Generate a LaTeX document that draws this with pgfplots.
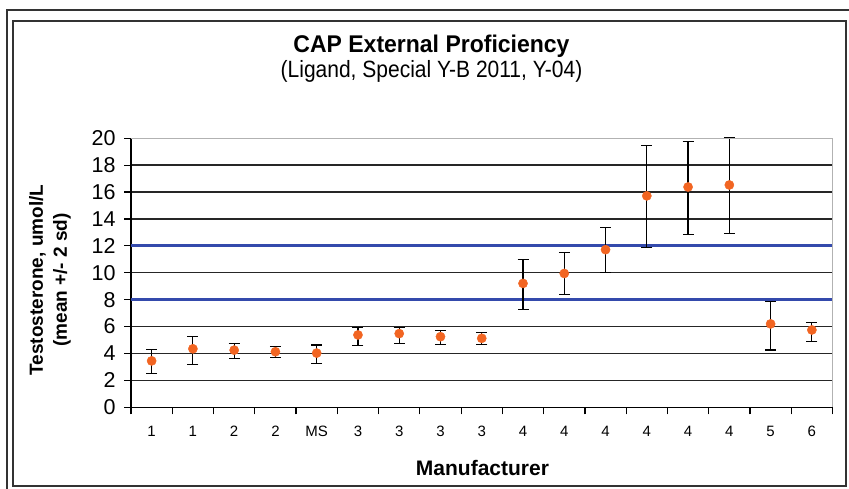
\documentclass[border=0pt]{standalone}
\usepackage{pgfplots}
\pgfplotsset{compat=1.18}
\usepackage{pgfplotstable}
\usepackage{graphicx}
\usepackage{fontspec}
\setmainfont{Liberation Sans}
\definecolor{dotorange}{RGB}{242,101,34}
\definecolor{refblue}{RGB}{52,74,172}
\pgfplotstableread{
x  y     ep    em
1  3.45  0.83  0.92
2  4.35  0.93  1.17
3  4.25  0.50  0.65
4  4.13  0.37  0.43
5  4.03  0.60  0.75
6  5.38  0.57  0.76
7  5.48  0.47  0.73
8  5.25  0.45  0.60
9  5.13  0.45  0.48
10 9.21  1.77  1.96
11 9.95  1.57  1.57
12 11.72 1.64  1.72
13 15.72 3.75  3.82
14 16.38 3.41  3.56
15 16.53 3.51  3.61
16 6.20  1.67  1.94
17 5.75  0.55  0.83
}\datatable
\begin{document}
\begin{tikzpicture}[x=1pt,y=1pt]
\useasboundingbox (0,0) rectangle (849,489);
\fill[white] (0,0) rectangle (849,489);
\draw[line width=1.5pt, black!80] (7,0) -- (7,479) -- (849,479);
\draw[line width=1.5pt, black!80] (13,3) rectangle (846,468);
\node[anchor=base, font=\fontsize{23}{27}\selectfont\bfseries] at (431.5,436.7) {\scalebox{1}[1.05]{CAP External Proficiency}};
\node[anchor=base, font=\fontsize{21}{25}\selectfont] at (431.5,411.7) {\scalebox{1}[1.12]{(Ligand, Special Y-B 2011, Y-04)}};
\node[rotate=90, align=center, font=\fontsize{19}{24}\selectfont\bfseries] at (50,209) {Testosterone, umol/L\\(mean +/- 2 sd)};
\node[anchor=base, font=\fontsize{21}{25}\selectfont\bfseries] at (482.5,13.7) {Manufacturer};
\begin{axis}[
  at={(131pt,81.7pt)}, anchor=south west, scale only axis,
  width=701.5pt, height=269pt,
  xmin=0.5, xmax=17.5, ymin=0, ymax=20,
  clip=false,
  axis x line*=bottom, axis y line*=left,
  axis line style={line width=1.2pt, black},
  ytick={0,2,...,20},
  yticklabel={\pgfmathprintnumber{\tick}},
  xtick={0.5,1.5,...,17.5},
  xticklabels={},
  extra x ticks={1,2,...,17},
  extra x tick labels={1,1,2,2,MS,3,3,3,3,4,4,4,4,4,4,5,6},
  extra x tick style={tick style={draw=none}, grid=none},
  tick align=outside,
  major tick length=7pt,
  tick style={line width=1.2pt, black},
  ymajorgrids,
  grid style={line width=1.4pt, black!85},
  /pgf/number format/assume math mode=true,
  yticklabel style={font=\fontsize{21.5}{24}\selectfont, xshift=-5pt},
  xticklabel style={font=\fontsize{15}{17}\selectfont, yshift=-8pt},
  after end axis/.code={
    \draw[black!30, line width=1.4pt] (rel axis cs:0,1) -- (rel axis cs:1,1) -- (rel axis cs:1,0);
  },
]
\addplot[refblue, line width=3pt, forget plot] coordinates {(0.5,12) (17.5,12)};
\addplot[refblue, line width=3pt, forget plot] coordinates {(0.5,8) (17.5,8)};
\addplot[only marks, mark=*, mark size=4.6pt,
  mark options={fill=dotorange, draw=dotorange},
  error bars/.cd, y dir=both, y explicit,
  error bar style={line width=1.2pt, black},
  error mark options={rotate=90, mark size=5.5pt, line width=1.2pt, black}]
  table[x=x, y=y, y error plus=ep, y error minus=em] {\datatable};
\end{axis}
\end{tikzpicture}
\end{document}
